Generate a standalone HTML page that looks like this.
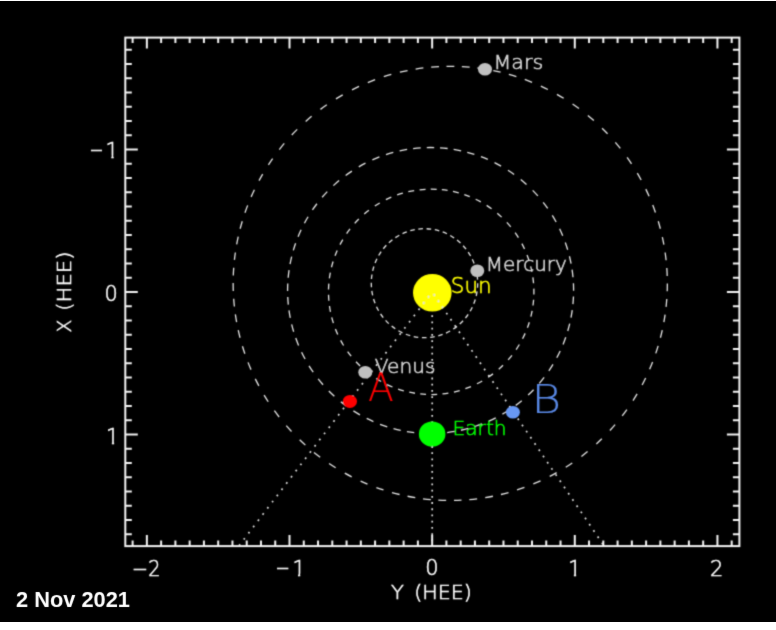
<!DOCTYPE html><html><head><meta charset="utf-8"><style>html,body{margin:0;padding:0;background:#fff;}svg{display:block;}</style></head><body>
<svg width="776" height="630" viewBox="0 0 776 630">
<rect x="0" y="1" width="776" height="621" fill="#000"/>
<defs><filter id="bl" x="0" y="0" width="776" height="630" filterUnits="userSpaceOnUse"><feConvolveMatrix order="3" kernelMatrix="1 4 1 4 16 4 1 4 1"/></filter><filter id="db" x="0" y="0" width="776" height="630" filterUnits="userSpaceOnUse"><feConvolveMatrix order="3" kernelMatrix="0 1 0 1 12 1 0 1 0"/></filter></defs>
<g filter="url(#bl)">
<path d="M477.7 283.2A53.2 54.5 0 0 1 477.51 287.82M477.08 291.47A53.2 54.5 0 0 1 476.21 296.01M475.27 299.47A53.2 54.5 0 0 1 473.75 303.82M472.28 307.18A53.2 54.5 0 0 1 470.12 311.24M468.17 314.33A53.2 54.5 0 0 1 465.44 318.01M463.05 320.76A53.2 54.5 0 0 1 459.74 324.02M456.97 326.37A53.2 54.5 0 0 1 453.22 329.08M450.13 330.96A53.2 54.5 0 0 1 446.01 333.05M442.6 334.45A53.2 54.5 0 0 1 438.3 335.84M434.71 336.69A53.2 54.5 0 0 1 430.17 337.39M426.51 337.66A53.2 54.5 0 0 1 421.91 337.64M418.25 337.32A53.2 54.5 0 0 1 413.71 336.57M410.22 335.7A53.2 54.5 0 0 1 405.85 334.24M402.46 332.8A53.2 54.5 0 0 1 398.43 330.71M395.29 328.75A53.2 54.5 0 0 1 391.63 326.05M388.82 323.62A53.2 54.5 0 0 1 385.6 320.38M383.24 317.61A53.2 54.5 0 0 1 380.55 313.9M378.62 310.8A53.2 54.5 0 0 1 376.51 306.71M375.07 303.34A53.2 54.5 0 0 1 373.58 298.98M372.66 295.42A53.2 54.5 0 0 1 371.83 290.88M371.45 287.31A53.2 54.5 0 0 1 371.3 282.69M371.46 279.01A53.2 54.5 0 0 1 371.98 274.51M372.67 270.89A53.2 54.5 0 0 1 373.88 266.44M375.1 262.98A53.2 54.5 0 0 1 376.95 258.76M378.67 255.53A53.2 54.5 0 0 1 381.12 251.65M383.3 248.72A53.2 54.5 0 0 1 386.3 245.27M388.88 242.72A53.2 54.5 0 0 1 392.42 239.72M395.36 237.6A53.2 54.5 0 0 1 399.31 235.2M402.53 233.56A53.2 54.5 0 0 1 406.79 231.81M410.3 230.68A53.2 54.5 0 0 1 414.78 229.62M418.33 229.07A53.2 54.5 0 0 1 422.91 228.72M426.59 228.74A53.2 54.5 0 0 1 431.17 229.13M434.8 229.73A53.2 54.5 0 0 1 439.26 230.84M442.68 231.98A53.2 54.5 0 0 1 446.92 233.78M450.2 235.48A53.2 54.5 0 0 1 454.13 237.93M457.04 240.08A53.2 54.5 0 0 1 460.49 243.06M463.11 245.71A53.2 54.5 0 0 1 466.07 249.19M468.22 252.14A53.2 54.5 0 0 1 470.63 256.05M472.31 259.3A53.2 54.5 0 0 1 474.12 263.54M475.3 267.01A53.2 54.5 0 0 1 476.44 271.39M477.1 275.01A53.2 54.5 0 0 1 477.58 279.61" fill="none" stroke="#e4e4e4" stroke-width="1.3" stroke-linecap="butt"/>
<path d="M533.9 291.85A102.7 102.7 0 0 1 533.87 294.43M533.6 299.75A102.7 102.7 0 0 1 532.99 305.52M532.11 310.94A102.7 102.7 0 0 1 530.87 316.61M529.31 322.2A102.7 102.7 0 0 1 527.44 327.7M525.13 333.38A102.7 102.7 0 0 1 522.56 338.76M519.35 344.54A102.7 102.7 0 0 1 516.14 349.58M511.95 355.3A102.7 102.7 0 0 1 508.13 359.89M503.02 365.26A102.7 102.7 0 0 1 498.75 369.21M492.99 373.88A102.7 102.7 0 0 1 488.12 377.33M482.22 380.98A102.7 102.7 0 0 1 476.96 383.79M470.95 386.55A102.7 102.7 0 0 1 465.38 388.7M459.7 390.52A102.7 102.7 0 0 1 453.92 392.01M448.38 393.1A102.7 102.7 0 0 1 442.47 393.93M437.17 394.38A102.7 102.7 0 0 1 431.36 394.55M426.04 394.42A102.7 102.7 0 0 1 420.25 393.96M414.97 393.26A102.7 102.7 0 0 1 409.27 392.18M403.79 390.82A102.7 102.7 0 0 1 398.09 389.07M392.5 386.98A102.7 102.7 0 0 1 387.04 384.57M381.16 381.53A102.7 102.7 0 0 1 376.17 378.56M370.31 374.56A102.7 102.7 0 0 1 365.74 370.98M360.19 366.05A102.7 102.7 0 0 1 356 361.8M351.15 356.19A102.7 102.7 0 0 1 347.64 351.56M343.63 345.51A102.7 102.7 0 0 1 340.66 340.33M337.73 334.41A102.7 102.7 0 0 1 335.42 328.91M333.38 323.13A102.7 102.7 0 0 1 331.73 317.39M330.47 311.89A102.7 102.7 0 0 1 329.48 306M328.88 300.71A102.7 102.7 0 0 1 328.54 294.75M328.52 289.59A102.7 102.7 0 0 1 328.83 283.63M329.39 278.34A102.7 102.7 0 0 1 330.32 272.61M331.49 267.25A102.7 102.7 0 0 1 333.09 261.5M335.02 255.85A102.7 102.7 0 0 1 337.2 250.47M339.99 244.65A102.7 102.7 0 0 1 342.8 239.57M346.62 233.59A102.7 102.7 0 0 1 350.05 228.9M354.7 223.33A102.7 102.7 0 0 1 358.81 219M364.26 213.97A102.7 102.7 0 0 1 368.89 210.21M374.82 206.01A102.7 102.7 0 0 1 379.76 202.96M385.87 199.69A102.7 102.7 0 0 1 391.3 197.22M397.17 194.95A102.7 102.7 0 0 1 402.86 193.14M408.32 191.73A102.7 102.7 0 0 1 414.18 190.57M419.61 189.81A102.7 102.7 0 0 1 425.56 189.31M430.72 189.15A102.7 102.7 0 0 1 436.68 189.3M441.83 189.7A102.7 102.7 0 0 1 447.58 190.47M452.97 191.48A102.7 102.7 0 0 1 458.77 192.92M464.31 194.63A102.7 102.7 0 0 1 469.76 196.66M475.66 199.27A102.7 102.7 0 0 1 480.82 201.93M486.64 205.4A102.7 102.7 0 0 1 491.57 208.76M497.28 213.23A102.7 102.7 0 0 1 501.62 217.1M506.83 222.37A102.7 102.7 0 0 1 510.74 226.89M515.13 232.67A102.7 102.7 0 0 1 518.43 237.64M521.89 243.65A102.7 102.7 0 0 1 524.53 249M527.04 254.95A102.7 102.7 0 0 1 529.02 260.57M530.67 266.31A102.7 102.7 0 0 1 531.96 271.97M532.88 277.38A102.7 102.7 0 0 1 533.54 283.31M533.85 288.62A102.7 102.7 0 0 1 533.9 291.85" fill="none" stroke="#e4e4e4" stroke-width="1.3" stroke-linecap="butt"/>
<path d="M573.6 290.5A143 143 0 0 1 573.6 290.72M573.47 296.56A143 143 0 0 1 572.94 304.18M572.24 310.2A143 143 0 0 1 571.02 317.52M569.7 323.66A143 143 0 0 1 567.73 331.04M565.74 337.24A143 143 0 0 1 563.06 344.39M560.18 350.98A143 143 0 0 1 556.77 357.81M552.99 364.45A143 143 0 0 1 548.87 370.88M544.14 377.43A143 143 0 0 1 539.34 383.37M533.6 389.69A143 143 0 0 1 528.16 395.05M521.75 400.68A143 143 0 0 1 515.74 405.39M509.11 410.02A143 143 0 0 1 502.42 414.15M495.72 417.81A143 143 0 0 1 488.83 421.11M481.99 423.95A143 143 0 0 1 474.79 426.5M468.33 428.43A143 143 0 0 1 460.92 430.25M454.74 431.45A143 143 0 0 1 447.18 432.54M441.15 433.11A143 143 0 0 1 433.74 433.47M427.9 433.47A143 143 0 0 1 420.28 433.13M414.24 432.56A143 143 0 0 1 406.9 431.52M400.72 430.34A143 143 0 0 1 393.52 428.61M387.27 426.78A143 143 0 0 1 380.05 424.27M373.4 421.56A143 143 0 0 1 366.68 418.42M359.94 414.83A143 143 0 0 1 353.41 410.88M346.73 406.32A143 143 0 0 1 340.84 401.82M334.36 396.27A143 143 0 0 1 328.85 390.98M323.04 384.73A143 143 0 0 1 318.16 378.85M313.22 372.17A143 143 0 0 1 309.03 365.79M305.07 359A143 143 0 0 1 301.59 352.2M298.57 345.43A143 143 0 0 1 295.75 338.09M293.66 331.69A143 143 0 0 1 291.66 324.32M290.26 317.96A143 143 0 0 1 289 310.43M288.3 304.63A143 143 0 0 1 287.75 297.01M287.6 290.95A143 143 0 0 1 287.77 283.54M288.17 277.71A143 143 0 0 1 289.06 270.13M290.05 264.15A143 143 0 0 1 291.66 256.68M293.34 250.39A143 143 0 0 1 295.6 243.33M298.06 236.82A143 143 0 0 1 301.11 229.82M304.43 223.19A143 143 0 0 1 308.09 216.74M312.45 209.94A143 143 0 0 1 316.92 203.74M322.15 197.29A143 143 0 0 1 327.28 191.63M333.37 185.64A143 143 0 0 1 339.1 180.6M345.64 175.47A143 143 0 0 1 351.9 171.1M358.78 166.85A143 143 0 0 1 365.48 163.19M372.37 159.89A143 143 0 0 1 379.42 156.97M385.98 154.64A143 143 0 0 1 393.3 152.45M399.62 150.9A143 143 0 0 1 407.12 149.44M413.12 148.57A143 143 0 0 1 420.72 147.84M426.78 147.55A143 143 0 0 1 434.19 147.55M440.03 147.81A143 143 0 0 1 447.63 148.52M453.64 149.37A143 143 0 0 1 461.14 150.8M467.25 152.28A143 143 0 0 1 474.36 154.36M480.94 156.65A143 143 0 0 1 487.8 159.44M494.52 162.58A143 143 0 0 1 501.06 166.06M507.98 170.24A143 143 0 0 1 514.11 174.42M520.71 179.46A143 143 0 0 1 526.51 184.43M532.66 190.34A143 143 0 0 1 537.87 195.93M543.18 202.32A143 143 0 0 1 547.72 208.46M552.29 215.4A143 143 0 0 1 556.13 222M559.61 228.8A143 143 0 0 1 562.71 235.78M565.3 242.48A143 143 0 0 1 567.67 249.74M569.44 256.24A143 143 0 0 1 571.07 263.7M572.08 269.68A143 143 0 0 1 572.99 277.27M573.42 283.32A143 143 0 0 1 573.6 290.5" fill="none" stroke="#e4e4e4" stroke-width="1.3" stroke-linecap="butt"/>
<path d="M667.35 283.4A217.1 217.1 0 0 1 667.21 291.24M666.78 299.07A217.1 217.1 0 0 1 666.08 306.88M665.09 314.66A217.1 217.1 0 0 1 663.88 322.07M662.27 330.09A217.1 217.1 0 0 1 660.44 337.72M658.15 345.93A217.1 217.1 0 0 1 655.76 353.4M652.6 362.05A217.1 217.1 0 0 1 649.63 369.31M645.66 377.99A217.1 217.1 0 0 1 642.12 384.99M637.12 393.91A217.1 217.1 0 0 1 633 400.59M626.88 409.62A217.1 217.1 0 0 1 622.21 415.92M615.11 424.65A217.1 217.1 0 0 1 609.9 430.52M601.82 438.83A217.1 217.1 0 0 1 596.36 443.97M587.58 451.54A217.1 217.1 0 0 1 581.42 456.4M572.28 462.96A217.1 217.1 0 0 1 565.71 467.25M556.63 472.65A217.1 217.1 0 0 1 549.72 476.37M540.52 480.84A217.1 217.1 0 0 1 533.33 483.97M524.43 487.43A217.1 217.1 0 0 1 517.01 489.98M508.52 492.53A217.1 217.1 0 0 1 500.93 494.5M492.94 496.26A217.1 217.1 0 0 1 485.22 497.66M477.12 498.83A217.1 217.1 0 0 1 469.32 499.66M461.5 500.21A217.1 217.1 0 0 1 454 500.47M446.16 500.46A217.1 217.1 0 0 1 438.32 500.17M430.84 499.63A217.1 217.1 0 0 1 423.04 498.79M415.28 497.66A217.1 217.1 0 0 1 407.56 496.26M399.57 494.5A217.1 217.1 0 0 1 391.98 492.53M383.49 489.98A217.1 217.1 0 0 1 376.39 487.55M367.48 484.1A217.1 217.1 0 0 1 360.6 481.13M351.69 476.84A217.1 217.1 0 0 1 344.77 473.15M335.65 467.79A217.1 217.1 0 0 1 329.07 463.53M320.17 457.22A217.1 217.1 0 0 1 313.98 452.4M305.4 445.12A217.1 217.1 0 0 1 299.66 439.78M291.52 431.52A217.1 217.1 0 0 1 286.28 425.69M279.13 417A217.1 217.1 0 0 1 274.41 410.73M268.24 401.74A217.1 217.1 0 0 1 264.08 395.08M258.87 385.89A217.1 217.1 0 0 1 255.29 378.91M251.01 369.62A217.1 217.1 0 0 1 248.02 362.37M244.85 353.72A217.1 217.1 0 0 1 242.45 346.26M240.06 337.72A217.1 217.1 0 0 1 238.23 330.09M236.62 322.07A217.1 217.1 0 0 1 235.36 314.33M234.39 306.55A217.1 217.1 0 0 1 233.69 298.73M233.28 290.9A217.1 217.1 0 0 1 233.15 283.06M233.29 275.56A217.1 217.1 0 0 1 233.72 267.73M234.42 259.92A217.1 217.1 0 0 1 235.36 252.47M236.68 244.4A217.1 217.1 0 0 1 238.23 236.71M240.14 228.75A217.1 217.1 0 0 1 242.25 221.2M244.97 212.75A217.1 217.1 0 0 1 247.65 205.39M251.14 196.87A217.1 217.1 0 0 1 254.4 189.73M259.03 180.61A217.1 217.1 0 0 1 262.69 174.06M268.42 164.78A217.1 217.1 0 0 1 272.63 158.57M279.34 149.53A217.1 217.1 0 0 1 284.28 143.44M291.76 135.03A217.1 217.1 0 0 1 297.22 129.41M305.66 121.46A217.1 217.1 0 0 1 311.6 116.34M320.44 109.38A217.1 217.1 0 0 1 326.82 104.8M335.94 98.83A217.1 217.1 0 0 1 342.69 94.82M351.99 89.81A217.1 217.1 0 0 1 359.05 86.39M367.8 82.57A217.1 217.1 0 0 1 375.11 79.72M383.81 76.72A217.1 217.1 0 0 1 391.32 74.45M399.9 72.22A217.1 217.1 0 0 1 407.56 70.54M415.61 69.08A217.1 217.1 0 0 1 423.38 67.97M431.18 67.14A217.1 217.1 0 0 1 439 66.59M446.5 66.33A217.1 217.1 0 0 1 454.34 66.34M461.84 66.61A217.1 217.1 0 0 1 469.66 67.17M477.46 68.01A217.1 217.1 0 0 1 485.22 69.14M493.27 70.61A217.1 217.1 0 0 1 500.6 72.22M508.85 74.36A217.1 217.1 0 0 1 516.36 76.61M524.75 79.48A217.1 217.1 0 0 1 532.07 82.31M540.83 86.1A217.1 217.1 0 0 1 547.9 89.5M556.92 94.32A217.1 217.1 0 0 1 563.68 98.29M572.56 104.03A217.1 217.1 0 0 1 578.96 108.57M587.84 115.47A217.1 217.1 0 0 1 593.82 120.55M602.07 128.21A217.1 217.1 0 0 1 607.57 133.79M615.33 142.4A217.1 217.1 0 0 1 620.32 148.46M627.08 157.45A217.1 217.1 0 0 1 631.52 163.92M637.29 173.18A217.1 217.1 0 0 1 641.15 180.01M645.81 189.12A217.1 217.1 0 0 1 649.09 196.24M652.73 205.07A217.1 217.1 0 0 1 655.42 212.43M658.25 221.2A217.1 217.1 0 0 1 660.36 228.75M662.34 237.04A217.1 217.1 0 0 1 663.88 244.73M665.14 252.47A217.1 217.1 0 0 1 666.11 260.25M666.81 268.07A217.1 217.1 0 0 1 667.22 275.9" fill="none" stroke="#e4e4e4" stroke-width="1.3" stroke-linecap="butt"/>
<line x1="432.2" y1="292" x2="432.2" y2="546" stroke="#e0e0e0" stroke-width="1.7" stroke-dasharray="1.8 4.427" stroke-dashoffset="1.6"/>
<ellipse cx="432.3" cy="292.75" rx="19.3" ry="18.85" fill="#ffff00"/>
<line x1="432.2" y1="292" x2="238.8" y2="546" stroke="#e0e0e0" stroke-width="1.7" stroke-dasharray="1.8 6.0" stroke-dashoffset="2.63"/>
<line x1="432.2" y1="292" x2="604.1" y2="546" stroke="#e0e0e0" stroke-width="1.7" stroke-dasharray="1.8 5.7" stroke-dashoffset="4.8"/>
<ellipse cx="477.3" cy="270.75" rx="7" ry="6.3" fill="#c0c0c0"/>
<ellipse cx="365.3" cy="372.2" rx="7" ry="6.3" fill="#c0c0c0"/>
<ellipse cx="432.15" cy="434" rx="13.3" ry="12.6" fill="#00ff00"/>
<ellipse cx="485" cy="69.2" rx="7" ry="6.3" fill="#c0c0c0"/>
<ellipse cx="349.9" cy="401.4" rx="7.1" ry="6.5" fill="#ff0000"/>
<ellipse cx="512.9" cy="412.25" rx="7" ry="6.3" fill="#6898f4"/>
<path d="M132.61 546.1V540.6M132.61 37.6V43.1M146.87 546.1V535.1M146.87 37.6V48.6M161.13 546.1V540.6M161.13 37.6V43.1M175.4 546.1V540.6M175.4 37.6V43.1M189.66 546.1V540.6M189.66 37.6V43.1M203.93 546.1V540.6M203.93 37.6V43.1M218.19 546.1V540.6M218.19 37.6V43.1M232.45 546.1V540.6M232.45 37.6V43.1M246.72 546.1V540.6M246.72 37.6V43.1M260.98 546.1V540.6M260.98 37.6V43.1M275.25 546.1V540.6M275.25 37.6V43.1M289.51 546.1V535.1M289.51 37.6V48.6M303.77 546.1V540.6M303.77 37.6V43.1M318.04 546.1V540.6M318.04 37.6V43.1M332.3 546.1V540.6M332.3 37.6V43.1M346.57 546.1V540.6M346.57 37.6V43.1M360.83 546.1V540.6M360.83 37.6V43.1M375.09 546.1V540.6M375.09 37.6V43.1M389.36 546.1V540.6M389.36 37.6V43.1M403.62 546.1V540.6M403.62 37.6V43.1M417.89 546.1V540.6M417.89 37.6V43.1M432.15 546.1V535.1M432.15 37.6V48.6M446.41 546.1V540.6M446.41 37.6V43.1M460.68 546.1V540.6M460.68 37.6V43.1M474.94 546.1V540.6M474.94 37.6V43.1M489.21 546.1V540.6M489.21 37.6V43.1M503.47 546.1V540.6M503.47 37.6V43.1M517.73 546.1V540.6M517.73 37.6V43.1M532 546.1V540.6M532 37.6V43.1M546.26 546.1V540.6M546.26 37.6V43.1M560.53 546.1V540.6M560.53 37.6V43.1M574.79 546.1V535.1M574.79 37.6V48.6M589.05 546.1V540.6M589.05 37.6V43.1M603.32 546.1V540.6M603.32 37.6V43.1M617.58 546.1V540.6M617.58 37.6V43.1M631.85 546.1V540.6M631.85 37.6V43.1M646.11 546.1V540.6M646.11 37.6V43.1M660.37 546.1V540.6M660.37 37.6V43.1M674.64 546.1V540.6M674.64 37.6V43.1M688.9 546.1V540.6M688.9 37.6V43.1M703.17 546.1V540.6M703.17 37.6V43.1M717.43 546.1V535.1M717.43 37.6V48.6M731.69 546.1V540.6M731.69 37.6V43.1M125.3 49.75H131.8M739.4 49.75H732.9M125.3 64H131.8M739.4 64H732.9M125.3 78.25H131.8M739.4 78.25H732.9M125.3 92.5H131.8M739.4 92.5H732.9M125.3 106.75H131.8M739.4 106.75H732.9M125.3 121H131.8M739.4 121H732.9M125.3 135.25H131.8M739.4 135.25H732.9M125.3 149.5H137.8M739.4 149.5H726.9M125.3 163.75H131.8M739.4 163.75H732.9M125.3 178H131.8M739.4 178H732.9M125.3 192.25H131.8M739.4 192.25H732.9M125.3 206.5H131.8M739.4 206.5H732.9M125.3 220.75H131.8M739.4 220.75H732.9M125.3 235H131.8M739.4 235H732.9M125.3 249.25H131.8M739.4 249.25H732.9M125.3 263.5H131.8M739.4 263.5H732.9M125.3 277.75H131.8M739.4 277.75H732.9M125.3 292H137.8M739.4 292H726.9M125.3 306.25H131.8M739.4 306.25H732.9M125.3 320.5H131.8M739.4 320.5H732.9M125.3 334.75H131.8M739.4 334.75H732.9M125.3 349H131.8M739.4 349H732.9M125.3 363.25H131.8M739.4 363.25H732.9M125.3 377.5H131.8M739.4 377.5H732.9M125.3 391.75H131.8M739.4 391.75H732.9M125.3 406H131.8M739.4 406H732.9M125.3 420.25H131.8M739.4 420.25H732.9M125.3 434.5H137.8M739.4 434.5H726.9M125.3 448.75H131.8M739.4 448.75H732.9M125.3 463H131.8M739.4 463H732.9M125.3 477.25H131.8M739.4 477.25H732.9M125.3 491.5H131.8M739.4 491.5H732.9M125.3 505.75H131.8M739.4 505.75H732.9M125.3 520H131.8M739.4 520H732.9M125.3 534.25H131.8M739.4 534.25H732.9" fill="none" stroke="#f4f4f4" stroke-width="2"/>
<rect x="125.3" y="37.6" width="614.1" height="508.5" fill="none" stroke="#f4f4f4" stroke-width="2"/>
<text x="132" y="576.2" font-size="20.9" fill="#ffffff" textLength="28.38" lengthAdjust="spacingAndGlyphs" font-weight="200" style='font-family:"DejaVu Sans", "Liberation Sans", sans-serif' stroke="#ffffff" stroke-width="0.55">−2</text>
<text x="275.4" y="574.6" font-size="20.9" fill="#ffffff" textLength="14.52" lengthAdjust="spacingAndGlyphs" font-weight="200" style='font-family:"DejaVu Sans", "Liberation Sans", sans-serif' stroke="#ffffff" stroke-width="0.55">−</text>
<text x="292.4" y="575.9" font-size="20.9" fill="#ffffff" font-weight="200" style='font-family:"DejaVu Sans", "Liberation Sans", sans-serif' stroke="#ffffff" stroke-width="0.55" clip-path="url(#c2)">1</text>
<text x="425.25" y="575.2" font-size="20.9" fill="#ffffff" font-weight="200" style='font-family:"DejaVu Sans", "Liberation Sans", sans-serif' stroke="#ffffff" stroke-width="0.55">0</text>
<text x="568.3" y="575.9" font-size="20.9" fill="#ffffff" font-weight="200" style='font-family:"DejaVu Sans", "Liberation Sans", sans-serif' stroke="#ffffff" stroke-width="0.55" clip-path="url(#c4)">1</text>
<text x="710.05" y="576.3" font-size="20.9" fill="#ffffff" font-weight="200" style='font-family:"DejaVu Sans", "Liberation Sans", sans-serif' stroke="#ffffff" stroke-width="0.55">2</text>
<text x="89.4" y="157.4" font-size="20.9" fill="#ffffff" textLength="14.2" lengthAdjust="spacingAndGlyphs" font-weight="200" style='font-family:"DejaVu Sans", "Liberation Sans", sans-serif' stroke="#ffffff" stroke-width="0.55">−</text>
<text x="105.4" y="157.8" font-size="20.9" fill="#ffffff" font-weight="200" style='font-family:"DejaVu Sans", "Liberation Sans", sans-serif' stroke="#ffffff" stroke-width="0.55" clip-path="url(#c7)">1</text>
<text x="104.4" y="300.6" font-size="20.9" fill="#ffffff" font-weight="200" style='font-family:"DejaVu Sans", "Liberation Sans", sans-serif' stroke="#ffffff" stroke-width="0.55">0</text>
<text x="105.9" y="444" font-size="20.9" fill="#ffffff" font-weight="200" style='font-family:"DejaVu Sans", "Liberation Sans", sans-serif' stroke="#ffffff" stroke-width="0.55" clip-path="url(#c9)">1</text>
<text x="391" y="599.3" font-size="20" fill="#ffffff" textLength="12.83" lengthAdjust="spacingAndGlyphs" font-weight="200" style='font-family:"DejaVu Sans", "Liberation Sans", sans-serif' stroke="#ffffff" stroke-width="0.55">Y</text>
<text x="414.2" y="599.3" font-size="20" fill="#ffffff" textLength="57.54" lengthAdjust="spacingAndGlyphs" font-weight="200" style='font-family:"DejaVu Sans", "Liberation Sans", sans-serif' stroke="#ffffff" stroke-width="0.55">(HEE)</text>
<text x="450.8" y="293.25" font-size="21.3" fill="#ffff00" textLength="40.8" lengthAdjust="spacingAndGlyphs" font-weight="200" style='font-family:"DejaVu Sans", "Liberation Sans", sans-serif' stroke="#ffff00" stroke-width="0.55">Sun</text>
<text x="485.8" y="271" font-size="19.5" fill="#d8d8d8" textLength="81.13" lengthAdjust="spacingAndGlyphs" font-weight="200" style='font-family:"DejaVu Sans", "Liberation Sans", sans-serif' stroke="#d8d8d8" stroke-width="0.55">Mercury</text>
<text x="374.8" y="372.5" font-size="19.3" fill="#d8d8d8" textLength="60.59" lengthAdjust="spacingAndGlyphs" font-weight="200" style='font-family:"DejaVu Sans", "Liberation Sans", sans-serif' stroke="#d8d8d8" stroke-width="0.55">Venus</text>
<text x="452.4" y="434.9" font-size="20.27" fill="#00ff00" textLength="54.27" lengthAdjust="spacingAndGlyphs" font-weight="200" style='font-family:"DejaVu Sans", "Liberation Sans", sans-serif' stroke="#00ff00" stroke-width="0.55">Earth</text>
<text x="493.4" y="69.05" font-size="19.5" fill="#d8d8d8" textLength="49.87" lengthAdjust="spacingAndGlyphs" font-weight="200" style='font-family:"DejaVu Sans", "Liberation Sans", sans-serif' stroke="#d8d8d8" stroke-width="0.55">Mars</text>
<text x="368" y="400.5" font-size="39.15" fill="#ff0000" textLength="25.81" lengthAdjust="spacingAndGlyphs" font-weight="200" style='font-family:"DejaVu Sans", "Liberation Sans", sans-serif' stroke="#ff0000" stroke-width="0.15">A</text>
<text x="531.6" y="413" font-size="39.43" fill="#5a8ae8" textLength="29.67" lengthAdjust="spacingAndGlyphs" font-weight="200" style='font-family:"DejaVu Sans", "Liberation Sans", sans-serif' stroke="#5a8ae8" stroke-width="0.15">B</text>
<text x="70.6" y="332.6" font-size="20" fill="#ffffff" textLength="12.9" lengthAdjust="spacingAndGlyphs" font-weight="200" style='font-family:"DejaVu Sans", "Liberation Sans", sans-serif' stroke="#ffffff" stroke-width="0.55" transform="rotate(-90 70.6 332.6)">X</text>
<text x="70.6" y="310.8" font-size="20" fill="#ffffff" textLength="59.25" lengthAdjust="spacingAndGlyphs" font-weight="200" style='font-family:"DejaVu Sans", "Liberation Sans", sans-serif' stroke="#ffffff" stroke-width="0.55" transform="rotate(-90 70.6 310.8)">(HEE)</text>
</g>
<rect x="0" y="622" width="776" height="8" fill="#fff"/>
<g filter="url(#db)">
<text x="16" y="606.9" font-size="21.4" fill="#ffffff" textLength="114" lengthAdjust="spacingAndGlyphs" font-weight="bold" style='font-family:"Liberation Sans", sans-serif'>2 Nov 2021</text>
</g>
<defs><clipPath id="c2"><rect x="0" y="0" width="776" height="573.7"/><rect x="298" y="570" width="2.2" height="8"/></clipPath><clipPath id="c4"><rect x="0" y="0" width="776" height="573.7"/><rect x="573.9" y="570" width="2.2" height="8"/></clipPath><clipPath id="c7"><rect x="0" y="0" width="776" height="155.5"/><rect x="111.4" y="152" width="2.2" height="8"/></clipPath><clipPath id="c9"><rect x="0" y="0" width="776" height="441.7"/><rect x="111.9" y="438" width="2.2" height="8"/></clipPath></defs>
</svg></body></html>
